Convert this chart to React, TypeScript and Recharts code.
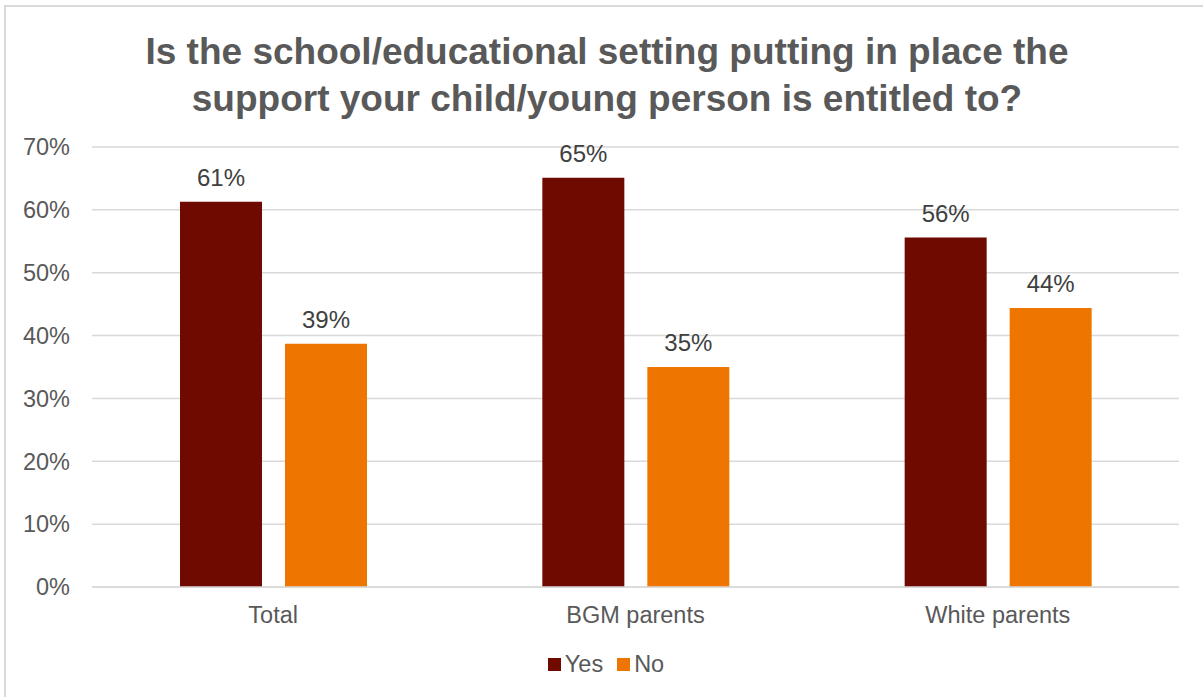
import { Bar, BarChart, CartesianGrid, LabelList, Legend, XAxis, YAxis } from "recharts";

const categories = ["Total", "BGM parents", "White parents"];
const yesValues = [61.3, 65.1, 55.6];
const noValues = [38.7, 35.0, 44.4];
const yTicks = [0, 10, 20, 30, 40, 50, 60, 70];

const chartData = categories.map((name, i) => ({
  name,
  yes: yesValues[i],
  no: noValues[i],
}));

const FONT = '"Liberation Sans", Arial, sans-serif';
const TEXT = "#595959";
const YES = "#6e0a00";
const NO = "#ee7600";

const pct = (v: number) => `${Math.round(v)}%`;

function LegendContent() {
  const items = [
    { label: "Yes", color: YES },
    { label: "No", color: NO },
  ];
  return (
    <div style={{ display: "flex", justifyContent: "center", gap: 14, fontFamily: FONT, fontSize: 23.5, color: TEXT }}>
      {items.map((it) => (
        <span key={it.label} style={{ display: "flex", alignItems: "center" }}>
          <span style={{ width: 13, height: 13, background: it.color, marginRight: 4, display: "inline-block" }} />
          {it.label}
        </span>
      ))}
    </div>
  );
}

export default function App() {
  return (
    <div style={{ position: "fixed", left: 0, top: 0, width: 1203, height: 697, overflow: "hidden", background: "#fff" }}>
      <div
        style={{
          position: "absolute",
          left: 4,
          top: 5,
          width: 1200,
          height: 700,
          border: "2px solid #d9d9d9",
          background: "#fff",
          fontFamily: FONT,
        }}
      >
        <div
          style={{
            position: "absolute",
            left: 0,
            top: 21,
            width: 1202,
            textAlign: "center",
            fontSize: 37,
            fontWeight: "bold",
            color: TEXT,
            lineHeight: "47px",
          }}
        >
          Is the school/educational setting putting in place the
          <br />
          support your child/young person is entitled to?
        </div>
        <BarChart
          width={1200}
          height={700}
          data={chartData}
          margin={{ top: 140, right: 27, left: 25, bottom: 90 }}
          barSize={82}
          barGap={23}
        >
          <CartesianGrid vertical={false} stroke="#d9d9d9" strokeWidth={1.5} />
          <XAxis
            dataKey="name"
            axisLine={{ stroke: "#d9d9d9", strokeWidth: 1.5 }}
            tickLine={false}
            tick={{ fill: TEXT, fontSize: 23.5, fontFamily: FONT }}
            tickMargin={13}
            height={30}
          />
          <YAxis
            domain={[0, 70]}
            ticks={yTicks}
            tickFormatter={(v: number) => `${v}%`}
            axisLine={false}
            tickLine={false}
            tick={{ fill: TEXT, fontSize: 23.5, fontFamily: FONT }}
            width={61}
            tickMargin={16}
          />
          <Legend
            layout="horizontal"
            verticalAlign="middle"
            align="center"
            content={<LegendContent />}
            wrapperStyle={{ top: 644, left: 0, width: 1200 }}
          />
          <Bar dataKey="yes" name="Yes" fill={YES} isAnimationActive={false}>
            <LabelList dataKey="yes" position="top" offset={16} formatter={pct} fill="#404040" fontSize={24} fontFamily={FONT} />
          </Bar>
          <Bar dataKey="no" name="No" fill={NO} isAnimationActive={false}>
            <LabelList dataKey="no" position="top" offset={16} formatter={pct} fill="#404040" fontSize={24} fontFamily={FONT} />
          </Bar>
        </BarChart>
      </div>
    </div>
  );
}
